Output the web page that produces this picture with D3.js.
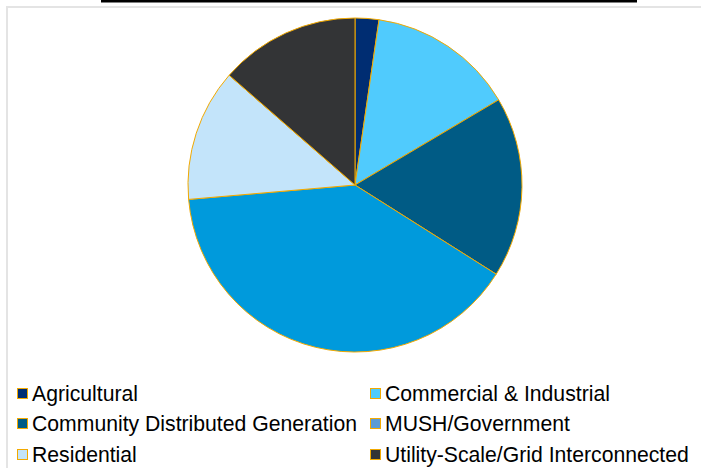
<!DOCTYPE html>
<html><head><meta charset="utf-8">
<script src="https://cdn.jsdelivr.net/npm/d3@7"></script>
<style>body{margin:0;background:#fff;font-family:"Liberation Sans",Arial,sans-serif;}</style>
</head><body>
<svg id="c" width="701" height="468"></svg>
<script>
const categories = ["Agricultural","Commercial & Industrial","Community Distributed Generation","MUSH/Government","Residential","Utility-Scale/Grid Interconnected"];
const values = [2.3, 14.2, 17.5, 39.7, 12.8, 13.6];
const sliceColors = ["#002D72","#50CBFD","#005B85","#009ADC","#C3E4FA","#333436"];
const legendColors = ["#002D72","#50CBFD","#005B85","#5B9BD5","#C3E4FA","#333436"];

const svg = d3.select("#c");
// clipped title underline
svg.append("rect").attr("x",101).attr("y",0).attr("width",536).attr("height",2.5).attr("fill","#000");
// chart border
svg.append("rect").attr("x",7).attr("y",7).attr("width",710).attr("height",480)
  .attr("fill","#fff").attr("stroke","#e4e4e4").attr("stroke-width",2);

const cx = 355, cy = 185, r = 167;
const pie = d3.pie().sort(null).value(d => d)(values);
const arc = d3.arc().innerRadius(0).outerRadius(r);
svg.append("g").attr("transform",`translate(${cx},${cy})`)
  .selectAll("path").data(pie).join("path")
  .attr("d",arc).attr("fill",(d,i)=>sliceColors[i])
  .attr("stroke","#F2A900").attr("stroke-width",1);

const colX = [17, 370], rowY = [394, 424, 455];
const lg = svg.append("g");
categories.forEach((c,i)=>{
  const x = colX[i%2], y = rowY[Math.floor(i/2)];
  lg.append("rect").attr("x",x+0.5).attr("y",y-5.5).attr("width",10).attr("height",10)
    .attr("fill",legendColors[i]).attr("stroke","#F2A900").attr("stroke-width",1);
  lg.append("text").attr("x",x+15).attr("y",y).attr("dy","0.35em")
    .attr("font-size",21.2).attr("fill","#000").text(c);
});
</script>
</body></html>
